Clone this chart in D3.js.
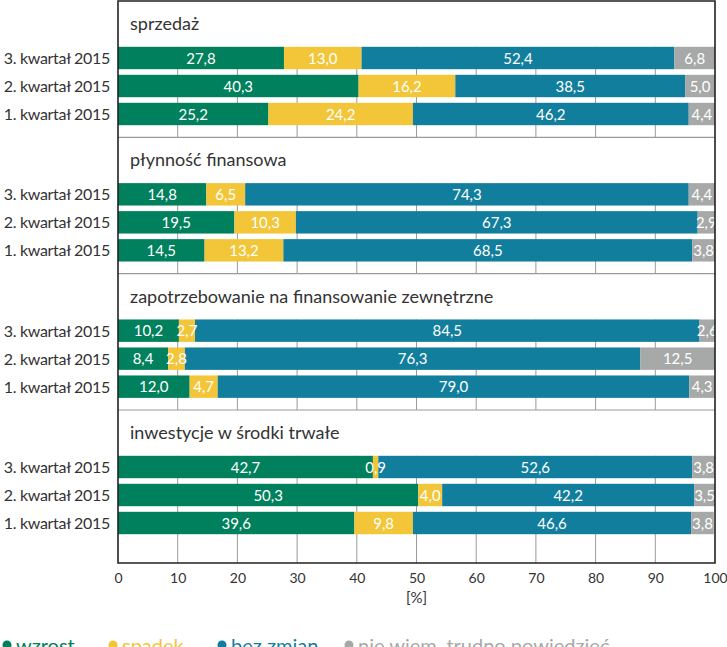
<!DOCTYPE html>
<html>
<head>
<meta charset="utf-8">
<script src="https://cdn.jsdelivr.net/npm/d3@7"></script>
<style>
  body { margin: 0; background: #fff; }
  text { font-family: Lato, "Open Sans", sans-serif; }
</style>
</head>
<body>
<svg id="chart" width="727" height="647"></svg>
<script>
"use strict";

// dane
var panels = ["sprzedaż", "płynność finansowa", "zapotrzebowanie na finansowanie zewnętrzne", "inwestycje w środki trwałe"];
var categories = ["3. kwartał 2015", "2. kwartał 2015", "1. kwartał 2015"];
var seriesNames = ["wzrost", "spadek", "bez zmian", "nie wiem, trudno powiedzieć"];
var wzrost   = [[27.8, 40.3, 25.2], [14.8, 19.5, 14.5], [10.2, 8.4, 12.0], [42.7, 50.3, 39.6]];
var spadek   = [[13.0, 16.2, 24.2], [6.5, 10.3, 13.2], [2.7, 2.8, 4.7], [0.9, 4.0, 9.8]];
var bezZmian = [[52.4, 38.5, 46.2], [74.3, 67.3, 68.5], [84.5, 76.3, 79.0], [52.6, 42.2, 46.6]];
var nieWiem  = [[6.8, 5.0, 4.4], [4.4, 2.9, 3.8], [2.6, 12.5, 4.3], [3.8, 3.5, 3.8]];
var xTicks = [0, 10, 20, 30, 40, 50, 60, 70, 80, 90, 100];

var colors = ["#00805c", "#f2c638", "#127e9d", "#a7a9a9"];
var series = [wzrost, spadek, bezZmian, nieWiem];

var svg = d3.select("#chart");
var plotLeft = 118, plotRight = 715, plotTop = 1, plotBottom = 563;

var x = d3.scaleLinear().domain([0, 100]).range([plotLeft, plotRight]);
var panelY = d3.scaleLinear().domain([0, 3]).range([plotTop, 410]);
var rowY = d3.scaleBand().domain(categories).range([43, 127]).paddingInner(0.2).paddingOuter(0.1);
var fmt = function(v) { return d3.format(".1f")(v).replace(".", ","); };

// segmenty słupków
var segs = [];
panels.forEach(function(p, pi) {
  categories.forEach(function(c, ci) {
    var acc = 0;
    series.forEach(function(s, si) {
      var v = s[pi][ci];
      segs.push({ panel: pi, cat: c, s: si, x0: acc, x1: acc + v, v: v });
      acc += v;
    });
  });
});

// siatka i podpisy paneli
panels.forEach(function(p, pi) {
  var y0 = panelY(pi) + rowY(categories[0]);
  var y1 = pi < 3 ? panelY(pi + 1) : plotBottom;
  svg.append("g").selectAll("line")
    .data(xTicks.slice(1, -1))
    .enter().append("line")
      .attr("x1", function(d) { return x(d); })
      .attr("x2", function(d) { return x(d); })
      .attr("y1", y0)
      .attr("y2", y1)
      .attr("stroke", "#9a9a9a")
      .attr("stroke-width", 1);
  if (pi > 0) {
    svg.append("line")
      .attr("x1", plotLeft).attr("x2", plotRight)
      .attr("y1", panelY(pi)).attr("y2", panelY(pi))
      .attr("stroke", "#9a9a9a").attr("stroke-width", 1.2);
  }
  svg.append("text")
    .attr("x", 130)
    .attr("y", panelY(pi) + 29)
    .attr("font-size", 18)
    .attr("fill", "#333")
    .text(p);
  svg.append("g").selectAll("text")
    .data(categories)
    .enter().append("text")
      .attr("x", 110)
      .attr("y", function(d) { return panelY(pi) + rowY(d) + rowY.bandwidth() / 2 + 6; })
      .attr("text-anchor", "end")
      .attr("font-size", 16)
      .attr("letter-spacing", -0.3)
      .attr("fill", "#333")
      .text(function(d) { return d; });
});

// najpierw prostokąty, potem etykiety (żeby np. "0,9" nie było zakryte)
svg.append("g").selectAll("rect")
  .data(segs)
  .enter().append("rect")
    .attr("x", function(d) { return x(d.x0); })
    .attr("width", function(d) { return x(d.x1) - x(d.x0); })
    .attr("y", function(d) { return panelY(d.panel) + rowY(d.cat); })
    .attr("height", rowY.bandwidth())
    .attr("fill", function(d) { return colors[d.s]; });

svg.append("g").selectAll("text")
  .data(segs)
  .enter().append("text")
    .attr("x", function(d) { return x((d.x0 + d.x1) / 2); })
    .attr("y", function(d) { return panelY(d.panel) + rowY(d.cat) + rowY.bandwidth() / 2 + 5.5; })
    .attr("text-anchor", "middle")
    .attr("font-size", 15)
    .attr("fill", "#fff")
    .text(function(d) { return fmt(d.v); });

// ramka
svg.append("path")
  .attr("d", "M" + plotLeft + "," + plotBottom + "V" + plotTop + "H" + plotRight + "V" + plotBottom + "Z")
  .attr("fill", "none")
  .attr("stroke", "#222")
  .attr("stroke-width", 1.6);

// oś x
var axis = svg.append("g")
  .attr("transform", "translate(0," + plotBottom + ")")
  .call(d3.axisBottom(x).tickValues(xTicks).tickSize(0).tickPadding(10));
axis.select(".domain").remove();
axis.selectAll("text")
  .attr("font-size", 14)
  .attr("fill", "#333")
  .style("font-family", "Lato, 'Open Sans', sans-serif");

svg.append("text")
  .attr("x", x(50))
  .attr("y", 603)
  .attr("text-anchor", "middle")
  .attr("font-size", 15)
  .attr("fill", "#333")
  .text("[%]");

// legenda
var legendX = [7, 113, 222, 349];
var legend = svg.append("g").selectAll("g")
  .data(seriesNames)
  .enter().append("g")
    .attr("transform", function(d, i) { return "translate(" + legendX[i] + ",0)"; });
legend.append("circle")
  .attr("cx", 0).attr("cy", 645).attr("r", 4.5)
  .attr("fill", function(d, i) { return colors[i]; });
legend.append("text")
  .attr("x", 9).attr("y", 653)
  .attr("font-size", 20)
  .attr("fill", function(d, i) { return colors[i]; })
  .text(function(d) { return d; });
</script>
</body>
</html>
